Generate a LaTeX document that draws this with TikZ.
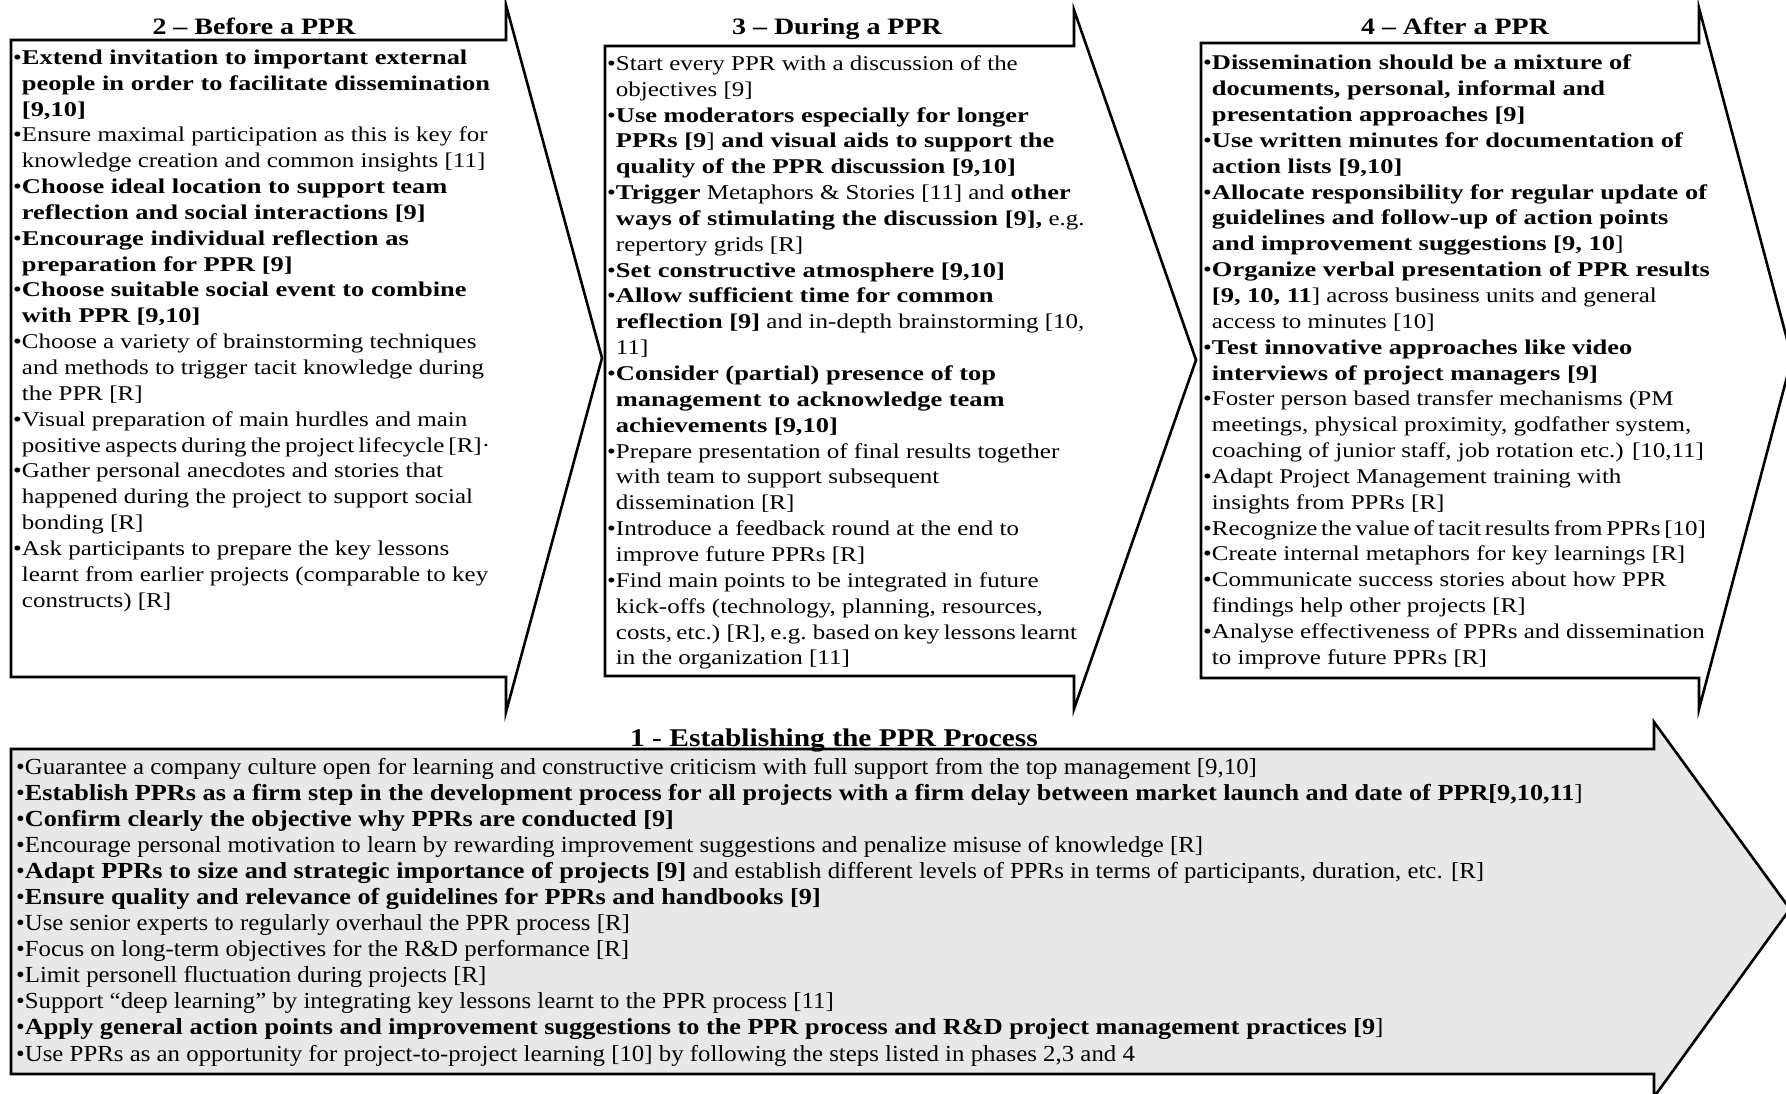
\documentclass[tikz,border=0pt]{standalone}
\usepackage{fontspec}
\setmainfont{Liberation Serif}
\newfontfamily\phasefont{Liberation Serif}[FakeStretch=1.19, BoldFeatures={FakeStretch=1.26}]
\newfontfamily\basefont{Liberation Serif}[FakeStretch=1.08, BoldFeatures={FakeStretch=1.14}]
\newfontfamily\phasetitlefont{Liberation Serif}[FakeStretch=1.19]
\newfontfamily\basetitlefont{Liberation Serif}[FakeStretch=1.155]
\definecolor{phasegray}{RGB}{232,232,232}
\newcommand\pbul{•}
\newcommand\pind{\hphantom{•}}
% a line set with narrower word spaces
\newcommand\tightline[2]{{\spaceskip=#1pt\relax #2}}
\begin{document}
\begin{tikzpicture}[x=1pt,y=-1pt,
  phase/.style={draw=black, line width=2.6pt, line join=miter, fill=white},
  basephase/.style={phase, fill=phasegray},
  body/.style={anchor=north west, inner sep=0pt, align=left,
    font=\phasefont\fontsize{21}{25.85}\selectfont},
  basebody/.style={anchor=north west, inner sep=0pt, align=left,
    font=\basefont\fontsize{23}{26.05}\selectfont},
  ttl/.style={anchor=base, inner sep=0pt,
    font=\phasetitlefont\bfseries\fontsize{23.5}{28}\selectfont},
  basettl/.style={anchor=base, inner sep=0pt,
    font=\basetitlefont\bfseries\fontsize{25.5}{28}\selectfont}]
\useasboundingbox (0,0) rectangle (1786,1093);
\clip (0,0) rectangle (1786,1093);

% phase arrows
\draw[phase] (11,40) -- (506,40) -- (506,5) -- (602,358) -- (506,712)
  -- (506,677) -- (11,677) -- cycle;
\draw[phase] (605,46) -- (1074,46) -- (1074,10) -- (1196,360) -- (1074,709)
  -- (1074,676) -- (605,676) -- cycle;
\draw[phase] (1201,43) -- (1699,43) -- (1699,8) -- (1792,358) -- (1699,709)
  -- (1699,678) -- (1201,678) -- cycle;
\draw[basephase] (11,749) -- (1654,749) -- (1654,722) -- (1790,909) -- (1654,1097)
  -- (1654,1074) -- (11,1074) -- cycle;

% titles
\node[ttl] (t2) at (254,34) {2 – Before a PPR};
\node[ttl] (t3) at (837,34) {3 – During a PPR};
\node[ttl] (t4) at (1455,34) {4 – After a PPR};
\node[basettl] (t1) at (834,746) {1 - Establishing the PPR Process};

% phase 2
\node[body] (b2) at (13,46) {\strut\pbul\textbf{Extend invitation to important external}\\
\pind\textbf{people in order to facilitate dissemination}\\
\pind\textbf{[9,10]}\\
\pbul Ensure maximal participation as this is key for\\
\pind knowledge creation and common insights [11]\\
\pbul\textbf{Choose ideal location to support team}\\
\pind\textbf{reflection and social interactions [9]}\\
\pbul\textbf{Encourage individual reflection as}\\
\pind\textbf{preparation for PPR [9]}\\
\pbul\textbf{Choose suitable social event to combine}\\
\pind\textbf{with PPR [9,10]}\\
\pbul Choose a variety of brainstorming techniques\\
\pind and methods to trigger tacit knowledge during\\
\pind the PPR [R]\\
\pbul Visual preparation of main hurdles and main\\
\pind\tightline{4}{positive aspects during the project lifecycle [R]·}\\
\pbul Gather personal anecdotes and stories that\\
\pind happened during the project to support social\\
\pind bonding [R]\\
\pbul Ask participants to prepare the key lessons\\
\pind learnt from earlier projects (comparable to key\\
\pind constructs) [R]};

% phase 3
\node[body] (b3) at (607,52) {\strut\pbul Start every PPR with a discussion of the\\
\pind objectives [9]\\
\pbul\textbf{Use moderators especially for longer}\\
\pind\textbf{PPRs [9}]\textbf{ and visual aids to support the}\\
\pind\textbf{quality of the PPR discussion [9,10]}\\
\pbul\textbf{Trigger} Metaphors \& Stories [11] and \textbf{other}\\
\pind\textbf{ways of stimulating the discussion [9],} e.g.\\
\pind repertory grids [R]\\
\pbul\textbf{Set constructive atmosphere [9,10]}\\
\pbul\textbf{Allow sufficient time for common}\\
\pind\textbf{reflection [9]} and in-depth brainstorming [10,\\
\pind 11]\\
\pbul\textbf{Consider (partial) presence of top}\\
\pind\textbf{management to acknowledge team}\\
\pind\textbf{achievements [9,10]}\\
\pbul Prepare presentation of final results together\\
\pind with team to support subsequent\\
\pind dissemination [R]\\
\pbul Introduce a feedback round at the end to\\
\pind improve future PPRs [R]\\
\pbul Find main points to be integrated in future\\
\pind kick-offs (technology, planning, resources,\\
\pind\tightline{4.3}{costs, etc.) [R], e.g. based on key lessons learnt}\\
\pind in the organization [11]};

% phase 4
\node[body] (b4) at (1203,51.5) {\strut\pbul\textbf{Dissemination should be a mixture of}\\
\pind\textbf{documents, personal, informal and}\\
\pind\textbf{presentation approaches [9]}\\
\pbul\textbf{Use written minutes for documentation of}\\
\pind\textbf{action lists [9,10]}\\
\pbul\textbf{Allocate responsibility for regular update of}\\
\pind\textbf{guidelines and follow-up of action points}\\
\pind\textbf{and improvement suggestions [9, 10}]\\
\pbul\textbf{Organize verbal presentation of PPR results}\\
\pind\textbf{[9, 10, 11}] across business units and general\\
\pind access to minutes [10]\\
\pbul\textbf{Test innovative approaches like video}\\
\pind\textbf{interviews of project managers [9]}\\
\pbul Foster person based transfer mechanisms (PM\\
\pind meetings, physical proximity, godfather system,\\
\pind coaching of junior staff, job rotation etc.) [10,11]\\
\pbul Adapt Project Management training with\\
\pind insights from PPRs [R]\\
\pbul\tightline{3.8}{Recognize the value of tacit results from PPRs [10]}\\
\pbul Create internal metaphors for key learnings [R]\\
\pbul Communicate success stories about how PPR\\
\pind findings help other projects [R]\\
\pbul Analyse effectiveness of PPRs and dissemination\\
\pind to improve future PPRs [R]};

% phase 1
\node[basebody] (b1) at (16,756) {\strut\pbul Guarantee a company culture open for learning and constructive criticism with full support from the top management [9,10]\\
\pbul\textbf{Establish PPRs as a firm step in the development process for all projects with a firm delay between market launch and date of PPR[9,10,11}]\\
\pbul\textbf{Confirm clearly the objective why PPRs are conducted [9]}\\
\pbul Encourage personal motivation to learn by rewarding improvement suggestions and penalize misuse of knowledge [R]\\
\pbul\textbf{Adapt PPRs to size and strategic importance of projects [9]} and establish different levels of PPRs in terms of participants, duration, etc. [R]\\
\pbul\textbf{Ensure quality and relevance of guidelines for PPRs and handbooks [9]}\\
\pbul Use senior experts to regularly overhaul the PPR process [R]\\
\pbul Focus on long-term objectives for the R\&D performance [R]\\
\pbul Limit personell fluctuation during projects [R]\\
\pbul Support “deep learning” by integrating key lessons learnt to the PPR process [11]\\
\pbul\textbf{Apply general action points and improvement suggestions to the PPR process and R\&D project management practices [9}]\\
\pbul Use PPRs as an opportunity for project-to-project learning [10] by following the steps listed in phases 2,3 and 4};
\end{tikzpicture}
\end{document}
